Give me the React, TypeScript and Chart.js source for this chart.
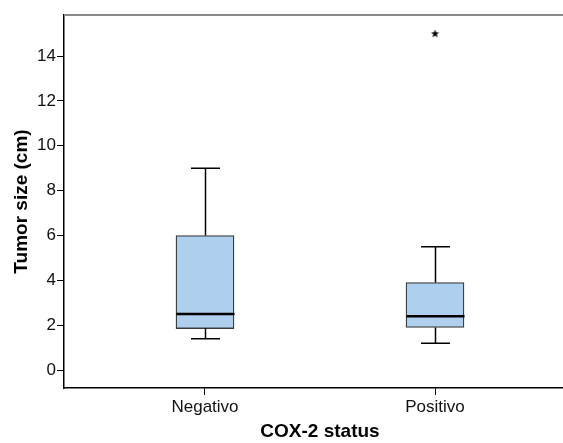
import React, { useEffect, useRef } from "react";
import { Chart, registerables } from "chart.js";

Chart.register(...registerables);

// ---- Data ----
const categories = ["Negativo", "Positivo"];
const whiskerLow = [1.4, 1.2];
const quartile1 = [1.85, 1.9];
const medians = [2.5, 2.4];
const quartile3 = [6.0, 3.9];
const whiskerHigh = [9.0, 5.5];
const outliers: number[][] = [[], [15]];
const yTicks = [0, 2, 4, 6, 8, 10, 12, 14];
const yTitle = "Tumor size (cm)";
const xTitle = "COX-2 status";

const FONT = "'Liberation Sans', Arial, Helvetica, sans-serif";
const BOX_WIDTH = 58;
const CAP_HALF = 14.5;

function makeStar(): HTMLCanvasElement {
  const c = document.createElement("canvas");
  c.width = 9;
  c.height = 9;
  const g = c.getContext("2d")!;
  g.fillStyle = "#000";
  g.beginPath();
  for (let k = 0; k < 10; k++) {
    const r = k % 2 === 0 ? 4.3 : 1.8;
    const a = -Math.PI / 2 + (k * Math.PI) / 5;
    const px = 4.5 + r * Math.cos(a);
    const py = 4.8 + r * Math.sin(a);
    if (k === 0) g.moveTo(px, py);
    else g.lineTo(px, py);
  }
  g.closePath();
  g.fill();
  return c;
}

const boxPlugin = {
  id: "boxWhiskers",
  beforeDatasetsDraw(chart: any) {
    const { ctx, chartArea } = chart;
    ctx.save();
    ctx.strokeStyle = "#888";
    ctx.lineWidth = 2;
    ctx.beginPath();
    ctx.moveTo(chartArea.left, chartArea.top);
    ctx.lineTo(chartArea.right, chartArea.top);
    ctx.stroke();
    ctx.restore();
  },
  afterDatasetsDraw(chart: any) {
    const { ctx } = chart;
    const x = chart.scales.x;
    const y = chart.scales.y;
    ctx.save();
    ctx.strokeStyle = "#000";
    categories.forEach((_, i) => {
      const cx = Math.round(x.getPixelForValue(i + 1)) + 0.5;
      const yq3 = y.getPixelForValue(quartile3[i]);
      const yq1 = y.getPixelForValue(quartile1[i]);
      const yHi = y.getPixelForValue(whiskerHigh[i]);
      const yLo = y.getPixelForValue(whiskerLow[i]);
      const yMed = y.getPixelForValue(medians[i]);
      ctx.lineWidth = 1.5;
      ctx.beginPath();
      ctx.moveTo(cx, yq3);
      ctx.lineTo(cx, yHi);
      ctx.moveTo(cx - CAP_HALF, yHi);
      ctx.lineTo(cx + CAP_HALF, yHi);
      ctx.moveTo(cx, yq1);
      ctx.lineTo(cx, yLo);
      ctx.moveTo(cx - CAP_HALF, yLo);
      ctx.lineTo(cx + CAP_HALF, yLo);
      ctx.stroke();
      ctx.lineWidth = 2.5;
      ctx.beginPath();
      ctx.moveTo(cx - BOX_WIDTH / 2, yMed);
      ctx.lineTo(cx + BOX_WIDTH / 2, yMed);
      ctx.stroke();
    });
    ctx.restore();
  },
};

export default function App() {
  const ref = useRef<HTMLCanvasElement>(null);

  useEffect(() => {
    if (!ref.current) return;
    const star = makeStar();
    const outlierPoints: { x: number; y: number }[] = [];
    outliers.forEach((list, i) => list.forEach((v) => outlierPoints.push({ x: i + 1, y: v })));

    const chart = new Chart(ref.current, {
      type: "bar",
      data: {
        datasets: [
          {
            type: "bar",
            data: categories.map((_, i) => ({ x: i + 1, y: [quartile1[i], quartile3[i]] })) as any,
            backgroundColor: "#aecfee",
            borderColor: "#3a3a3a",
            borderWidth: 1.3,
            borderSkipped: false,
            barThickness: BOX_WIDTH,
          } as any,
          {
            type: "scatter",
            data: outlierPoints,
            pointStyle: star as any,
            pointRadius: 4,
            showLine: false,
          } as any,
        ],
      },
      options: {
        animation: false,
        responsive: false,
        devicePixelRatio: 1,
        layout: { padding: { top: 15, right: 0, left: 0, bottom: 0 } },
        plugins: { legend: { display: false }, tooltip: { enabled: false } },
        scales: {
          x: {
            type: "linear",
            min: 0.387,
            max: 2.613,
            offset: false,
            afterBuildTicks: (s: any) => {
              s.ticks = categories.map((_, i) => ({ value: i + 1 }));
            },
            afterFit: (s: any) => {
              s.height = 55;
              s.paddingLeft = 0;
              s.paddingRight = 0;
            },
            ticks: {
              callback: (v: any) => categories[Number(v) - 1] ?? "",
              font: { family: FONT, size: 17 },
              color: "#111",
              padding: 2,
              maxRotation: 0,
              autoSkip: false,
            },
            grid: { offset: false, drawOnChartArea: false, tickLength: 7, tickColor: "#000", tickWidth: 1 },
            border: { display: true, color: "#000", width: 1.5 },
            title: {
              display: true,
              text: xTitle,
              font: { family: FONT, size: 19, weight: "bold" },
              color: "#000",
              padding: { top: 0, bottom: 0 },
            },
          },
          y: {
            type: "linear",
            min: -0.8,
            max: 15.83,
            afterBuildTicks: (s: any) => {
              s.ticks = yTicks.map((v) => ({ value: v }));
            },
            afterFit: (s: any) => {
              s.width = 64;
              s.paddingTop = 0;
              s.paddingBottom = 0;
            },
            ticks: {
              font: { family: FONT, size: 17 },
              color: "#111",
              padding: 1,
            },
            grid: { drawOnChartArea: false, tickLength: 7, tickColor: "#000", tickWidth: 1 },
            border: { display: true, color: "#000", width: 1.5 },
            title: {
              display: true,
              text: yTitle,
              font: { family: FONT, size: 19, weight: "bold" },
              color: "#000",
              padding: { top: 10, bottom: 0 },
            },
          },
        },
      },
      plugins: [boxPlugin],
    } as any);
    return () => chart.destroy();
  }, []);

  return (
    <div
      style={{
        position: "absolute",
        left: 0,
        top: 0,
        width: 563,
        height: 443,
        overflow: "hidden",
        background: "#fff",
      }}
    >
      <canvas ref={ref} width={581} height={443} style={{ display: "block", width: 581, height: 443 }} />
    </div>
  );
}
